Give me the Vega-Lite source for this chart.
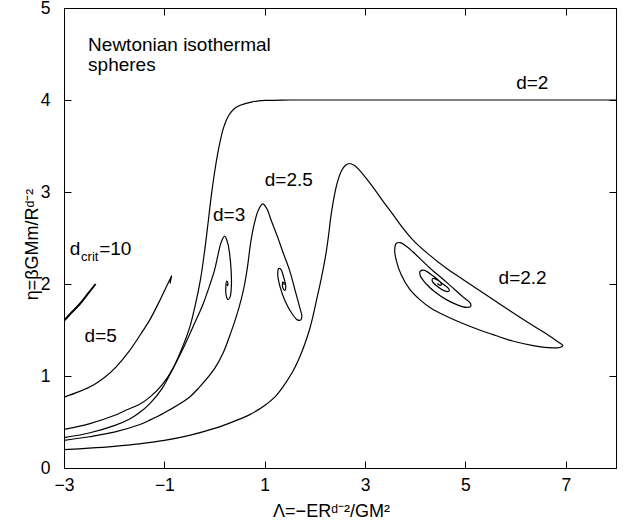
{
  "$schema": "https://vega.github.io/schema/vega-lite/v6.json",
  "width": 552,
  "height": 460,
  "autosize": {"type": "none"},
  "padding": {"left": 64, "top": 8, "right": 11, "bottom": 61},
  "background": "white",
  "config": {
    "view": {"stroke": "black", "strokeWidth": 1},
    "font": "Liberation Sans",
    "axis": {
      "grid": false,
      "domainColor": "black",
      "tickColor": "black",
      "labelColor": "black",
      "titleColor": "black",
      "labelFont": "Liberation Sans",
      "titleFont": "Liberation Sans",
      "labelFontSize": 17.5,
      "titleFontSize": 18,
      "titleFontWeight": "normal",
      "tickSize": -7,
      "labelFlush": false,
      "format": "d"
    }
  },
  "datasets": {
    "curves": [
      {"c":"d2","i":0,"x":-3,"y":0.42},{"c":"d2","i":1,"x":-2.5,"y":0.48},{"c":"d2","i":2,"x":-2,"y":0.57},{"c":"d2","i":3,"x":-1.76,"y":0.63},{"c":"d2","i":4,"x":-1.5,"y":0.69},{"c":"d2","i":5,"x":-1.29,"y":0.77},{"c":"d2","i":6,"x":-1.05,"y":0.9},{"c":"d2","i":7,"x":-0.83,"y":1.08},{"c":"d2","i":8,"x":-0.65,"y":1.3},{"c":"d2","i":9,"x":-0.5,"y":1.52},{"c":"d2","i":10,"x":-0.38,"y":1.78},{"c":"d2","i":11,"x":-0.28,"y":2.05},{"c":"d2","i":12,"x":-0.2,"y":2.35},{"c":"d2","i":13,"x":-0.13,"y":2.66},{"c":"d2","i":14,"x":-0.06,"y":2.98},{"c":"d2","i":15,"x":0.02,"y":3.28},{"c":"d2","i":16,"x":0.1,"y":3.52},{"c":"d2","i":17,"x":0.18,"y":3.7},{"c":"d2","i":18,"x":0.27,"y":3.82},{"c":"d2","i":19,"x":0.38,"y":3.9},{"c":"d2","i":20,"x":0.5,"y":3.94},{"c":"d2","i":21,"x":0.75,"y":3.98},{"c":"d2","i":22,"x":1.0,"y":3.995},{"c":"d2","i":23,"x":1.5,"y":4.0},{"c":"d2","i":24,"x":3,"y":4.0},{"c":"d2","i":25,"x":8,"y":4.0},

      {"c":"d3","i":0,"x":-3,"y":0.33},{"c":"d3","i":1,"x":-2.5,"y":0.38},{"c":"d3","i":2,"x":-2,"y":0.46},{"c":"d3","i":3,"x":-1.7,"y":0.53},{"c":"d3","i":4,"x":-1.5,"y":0.6},{"c":"d3","i":5,"x":-1.29,"y":0.7},{"c":"d3","i":6,"x":-1.05,"y":0.86},{"c":"d3","i":7,"x":-0.83,"y":1.08},{"c":"d3","i":8,"x":-0.6,"y":1.33},{"c":"d3","i":9,"x":-0.4,"y":1.57},{"c":"d3","i":10,"x":-0.23,"y":1.78},{"c":"d3","i":11,"x":-0.1,"y":1.98},{"c":"d3","i":12,"x":0.0,"y":2.15},{"c":"d3","i":13,"x":0.07,"y":2.32},{"c":"d3","i":14,"x":0.13,"y":2.45},{"c":"d3","i":15,"x":0.2,"y":2.52},{"c":"d3","i":16,"x":0.26,"y":2.45},{"c":"d3","i":17,"x":0.3,"y":2.33},{"c":"d3","i":18,"x":0.33,"y":2.15},{"c":"d3","i":19,"x":0.335,"y":1.97},{"c":"d3","i":20,"x":0.31,"y":1.86},{"c":"d3","i":21,"x":0.27,"y":1.83},{"c":"d3","i":22,"x":0.23,"y":1.88},{"c":"d3","i":23,"x":0.225,"y":1.97},{"c":"d3","i":24,"x":0.24,"y":2.03},{"c":"d3","i":25,"x":0.265,"y":2.01},{"c":"d3","i":26,"x":0.26,"y":1.98},{"c":"d3","i":27,"x":0.25,"y":2.0},

      {"c":"d25","i":0,"x":-3,"y":0.3},{"c":"d25","i":1,"x":-2.5,"y":0.34},{"c":"d25","i":2,"x":-2,"y":0.39},{"c":"d25","i":3,"x":-1.5,"y":0.47},{"c":"d25","i":4,"x":-1.29,"y":0.52},{"c":"d25","i":5,"x":-1.0,"y":0.6},{"c":"d25","i":6,"x":-0.5,"y":0.77},{"c":"d25","i":7,"x":-0.3,"y":0.88},{"c":"d25","i":8,"x":0.0,"y":1.08},{"c":"d25","i":9,"x":0.17,"y":1.25},{"c":"d25","i":10,"x":0.33,"y":1.48},{"c":"d25","i":11,"x":0.43,"y":1.64},{"c":"d25","i":12,"x":0.53,"y":1.83},{"c":"d25","i":13,"x":0.6,"y":2.0},{"c":"d25","i":14,"x":0.66,"y":2.2},{"c":"d25","i":15,"x":0.72,"y":2.45},{"c":"d25","i":16,"x":0.79,"y":2.65},{"c":"d25","i":17,"x":0.87,"y":2.8},{"c":"d25","i":18,"x":0.96,"y":2.87},{"c":"d25","i":19,"x":1.04,"y":2.82},{"c":"d25","i":20,"x":1.13,"y":2.69},{"c":"d25","i":21,"x":1.25,"y":2.52},{"c":"d25","i":22,"x":1.36,"y":2.35},{"c":"d25","i":23,"x":1.5,"y":2.14},{"c":"d25","i":24,"x":1.62,"y":1.9},{"c":"d25","i":25,"x":1.7,"y":1.74},{"c":"d25","i":26,"x":1.74,"y":1.65},{"c":"d25","i":27,"x":1.72,"y":1.61},{"c":"d25","i":28,"x":1.65,"y":1.61},{"c":"d25","i":29,"x":1.53,"y":1.69},{"c":"d25","i":30,"x":1.41,"y":1.81},{"c":"d25","i":31,"x":1.31,"y":1.96},{"c":"d25","i":32,"x":1.26,"y":2.1},{"c":"d25","i":33,"x":1.28,"y":2.17},{"c":"d25","i":34,"x":1.32,"y":2.16},{"c":"d25","i":35,"x":1.38,"y":2.07},{"c":"d25","i":36,"x":1.42,"y":1.97},{"c":"d25","i":37,"x":1.4,"y":1.93},{"c":"d25","i":38,"x":1.36,"y":1.96},{"c":"d25","i":39,"x":1.36,"y":2.02},{"c":"d25","i":40,"x":1.385,"y":2.01},{"c":"d25","i":41,"x":1.38,"y":1.99},

      {"c":"d22","i":0,"x":-3,"y":0.2},{"c":"d22","i":1,"x":-2.5,"y":0.215},{"c":"d22","i":2,"x":-2,"y":0.235},{"c":"d22","i":3,"x":-1.5,"y":0.262},{"c":"d22","i":4,"x":-1,"y":0.3},{"c":"d22","i":5,"x":-0.5,"y":0.355},{"c":"d22","i":6,"x":0,"y":0.43},{"c":"d22","i":7,"x":0.4,"y":0.51},{"c":"d22","i":8,"x":0.7,"y":0.58},{"c":"d22","i":9,"x":1.0,"y":0.68},{"c":"d22","i":10,"x":1.2,"y":0.77},{"c":"d22","i":11,"x":1.36,"y":0.88},{"c":"d22","i":12,"x":1.55,"y":1.04},{"c":"d22","i":13,"x":1.7,"y":1.21},{"c":"d22","i":14,"x":1.8,"y":1.35},{"c":"d22","i":15,"x":1.89,"y":1.5},{"c":"d22","i":16,"x":1.97,"y":1.67},{"c":"d22","i":17,"x":2.03,"y":1.82},{"c":"d22","i":18,"x":2.1,"y":1.99},{"c":"d22","i":19,"x":2.16,"y":2.15},{"c":"d22","i":20,"x":2.22,"y":2.33},{"c":"d22","i":21,"x":2.27,"y":2.52},{"c":"d22","i":22,"x":2.32,"y":2.74},{"c":"d22","i":23,"x":2.38,"y":2.94},{"c":"d22","i":24,"x":2.45,"y":3.11},{"c":"d22","i":25,"x":2.53,"y":3.23},{"c":"d22","i":26,"x":2.61,"y":3.29},{"c":"d22","i":27,"x":2.69,"y":3.31},{"c":"d22","i":28,"x":2.78,"y":3.29},{"c":"d22","i":29,"x":2.9,"y":3.23},{"c":"d22","i":30,"x":3.02,"y":3.15},{"c":"d22","i":31,"x":3.2,"y":3.02},{"c":"d22","i":32,"x":3.37,"y":2.89},{"c":"d22","i":33,"x":3.55,"y":2.76},{"c":"d22","i":34,"x":3.75,"y":2.61},{"c":"d22","i":35,"x":3.95,"y":2.48},{"c":"d22","i":36,"x":4.25,"y":2.33},{"c":"d22","i":37,"x":4.62,"y":2.17},{"c":"d22","i":38,"x":4.95,"y":2.05},{"c":"d22","i":39,"x":5.28,"y":1.93},{"c":"d22","i":40,"x":5.61,"y":1.81},{"c":"d22","i":41,"x":5.94,"y":1.69},{"c":"d22","i":42,"x":6.28,"y":1.57},{"c":"d22","i":43,"x":6.61,"y":1.46},{"c":"d22","i":44,"x":6.82,"y":1.38},{"c":"d22","i":45,"x":6.94,"y":1.33},{"c":"d22","i":46,"x":6.88,"y":1.31},{"c":"d22","i":47,"x":6.74,"y":1.305},{"c":"d22","i":48,"x":6.35,"y":1.33},{"c":"d22","i":49,"x":5.94,"y":1.38},{"c":"d22","i":50,"x":5.6,"y":1.44},{"c":"d22","i":51,"x":5.28,"y":1.5},{"c":"d22","i":52,"x":4.95,"y":1.57},{"c":"d22","i":53,"x":4.62,"y":1.65},{"c":"d22","i":54,"x":4.33,"y":1.73},{"c":"d22","i":55,"x":4.09,"y":1.83},{"c":"d22","i":56,"x":3.88,"y":1.95},{"c":"d22","i":57,"x":3.72,"y":2.1},{"c":"d22","i":58,"x":3.62,"y":2.26},{"c":"d22","i":59,"x":3.59,"y":2.37},{"c":"d22","i":60,"x":3.62,"y":2.44},{"c":"d22","i":61,"x":3.7,"y":2.45},{"c":"d22","i":62,"x":3.82,"y":2.41},{"c":"d22","i":63,"x":3.95,"y":2.35},{"c":"d22","i":64,"x":4.28,"y":2.18},{"c":"d22","i":65,"x":4.62,"y":2.02},{"c":"d22","i":66,"x":4.95,"y":1.86},{"c":"d22","i":67,"x":5.1,"y":1.79},{"c":"d22","i":68,"x":5.1,"y":1.755},{"c":"d22","i":69,"x":5.02,"y":1.745},{"c":"d22","i":70,"x":4.85,"y":1.77},{"c":"d22","i":71,"x":4.62,"y":1.83},{"c":"d22","i":72,"x":4.4,"y":1.91},{"c":"d22","i":73,"x":4.22,"y":2.0},{"c":"d22","i":74,"x":4.1,"y":2.09},{"c":"d22","i":75,"x":4.1,"y":2.14},{"c":"d22","i":76,"x":4.17,"y":2.15},{"c":"d22","i":77,"x":4.35,"y":2.09},{"c":"d22","i":78,"x":4.55,"y":2.0},{"c":"d22","i":79,"x":4.67,"y":1.945},{"c":"d22","i":80,"x":4.67,"y":1.92},{"c":"d22","i":81,"x":4.58,"y":1.925},{"c":"d22","i":82,"x":4.45,"y":1.97},{"c":"d22","i":83,"x":4.34,"y":2.03},{"c":"d22","i":84,"x":4.35,"y":2.06},{"c":"d22","i":85,"x":4.45,"y":2.04},{"c":"d22","i":86,"x":4.52,"y":2.0},{"c":"d22","i":87,"x":4.5,"y":1.985},{"c":"d22","i":88,"x":4.44,"y":2.005},

      {"c":"d5","i":0,"x":-3,"y":0.77},{"c":"d5","i":1,"x":-2.7,"y":0.83},{"c":"d5","i":2,"x":-2.42,"y":0.9},{"c":"d5","i":3,"x":-2.2,"y":0.98},{"c":"d5","i":4,"x":-1.96,"y":1.1},{"c":"d5","i":5,"x":-1.7,"y":1.27},{"c":"d5","i":6,"x":-1.43,"y":1.49},{"c":"d5","i":7,"x":-1.29,"y":1.61},{"c":"d5","i":8,"x":-1.1,"y":1.81},{"c":"d5","i":9,"x":-0.97,"y":1.96},{"c":"d5","i":10,"x":-0.88,"y":2.06},{"c":"d5","i":11,"x":-0.855,"y":2.09},{"c":"d5","i":12,"x":-0.87,"y":2.05},{"c":"d5","i":13,"x":-0.885,"y":2.01},{"c":"d5","i":14,"x":-0.875,"y":2.02}
    ],
    "crit": [
      {"c":"dcrit","i":0,"x":-3,"y":1.6},{"c":"dcrit","i":1,"x":-2.85,"y":1.69},{"c":"dcrit","i":2,"x":-2.69,"y":1.78},{"c":"dcrit","i":3,"x":-2.53,"y":1.89},{"c":"dcrit","i":4,"x":-2.37,"y":2.0}
    ],
    "labels": [
      {"t":"Newtonian isothermal","x":-2.52,"y":4.53},
      {"t":"spheres","x":-2.52,"y":4.31},
      {"t":"d=2","x":6.01,"y":4.12},
      {"t":"d=2.5","x":1.0,"y":3.07},
      {"t":"d=3","x":-0.03,"y":2.69},
      {"t":"d","x":-2.886,"y":2.31},
      {"t":"=10","x":-2.3,"y":2.31},
      {"t":"d=5","x":-2.59,"y":1.37},
      {"t":"d=2.2","x":5.66,"y":2.0}
    ],
    "sub": [
      {"t":"crit","x":-2.66,"y":2.255}
    ]
  },
  "resolve": {"axis": {"x": "independent", "y": "independent"}},
  "layer": [
    {
      "data": {"name": "curves"},
      "mark": {"type": "line", "interpolate": "catmull-rom", "clip": true, "color": "black", "strokeWidth": 1.2},
      "encoding": {
        "x": {"field": "x", "type": "quantitative", "scale": {"domain": [-3, 8], "nice": false, "zero": false},
          "axis": {"orient": "bottom", "values": [-3, -1, 1, 3, 5, 7], "labelPadding": 15,
            "title": "Λ=−ERᵈ⁻²/GM²", "titleX": 267, "titleY": 48, "titleBaseline": "alphabetic", "titleAlign": "center"}},
        "y": {"field": "y", "type": "quantitative", "scale": {"domain": [0, 5], "nice": false, "zero": false},
          "axis": {"orient": "left", "values": [0, 1, 2, 3, 4, 5], "labelPadding": 21,
            "title": "η=βGMm/Rᵈ⁻²", "titleX": -27, "titleY": 236, "titleAngle": -90, "titleBaseline": "alphabetic", "titleAlign": "center"}},
        "detail": {"field": "c"},
        "order": {"field": "i", "type": "quantitative"}
      }
    },
    {
      "data": {"name": "crit"},
      "mark": {"type": "line", "interpolate": "catmull-rom", "clip": true, "color": "black", "strokeWidth": 2},
      "encoding": {
        "x": {"field": "x", "type": "quantitative", "scale": {"domain": [-3, 8], "nice": false, "zero": false},
          "axis": {"orient": "top", "values": [-3, -1, 1, 3, 5, 7], "labels": false, "title": null}},
        "y": {"field": "y", "type": "quantitative", "scale": {"domain": [0, 5], "nice": false, "zero": false},
          "axis": {"orient": "right", "values": [0, 1, 2, 3, 4, 5], "labels": false, "title": null}},
        "order": {"field": "i", "type": "quantitative"}
      }
    },
    {
      "data": {"name": "labels"},
      "mark": {"type": "text", "align": "left", "baseline": "alphabetic", "fontSize": 19, "font": "Liberation Sans", "color": "black"},
      "encoding": {
        "x": {"field": "x", "type": "quantitative", "scale": {"domain": [-3, 8], "nice": false, "zero": false}, "axis": null},
        "y": {"field": "y", "type": "quantitative", "scale": {"domain": [0, 5], "nice": false, "zero": false}, "axis": null},
        "text": {"field": "t"}
      }
    },
    {
      "data": {"name": "sub"},
      "mark": {"type": "text", "align": "left", "baseline": "alphabetic", "fontSize": 13, "font": "Liberation Sans", "color": "black"},
      "encoding": {
        "x": {"field": "x", "type": "quantitative", "scale": {"domain": [-3, 8], "nice": false, "zero": false}, "axis": null},
        "y": {"field": "y", "type": "quantitative", "scale": {"domain": [0, 5], "nice": false, "zero": false}, "axis": null},
        "text": {"field": "t"}
      }
    }
  ]
}
